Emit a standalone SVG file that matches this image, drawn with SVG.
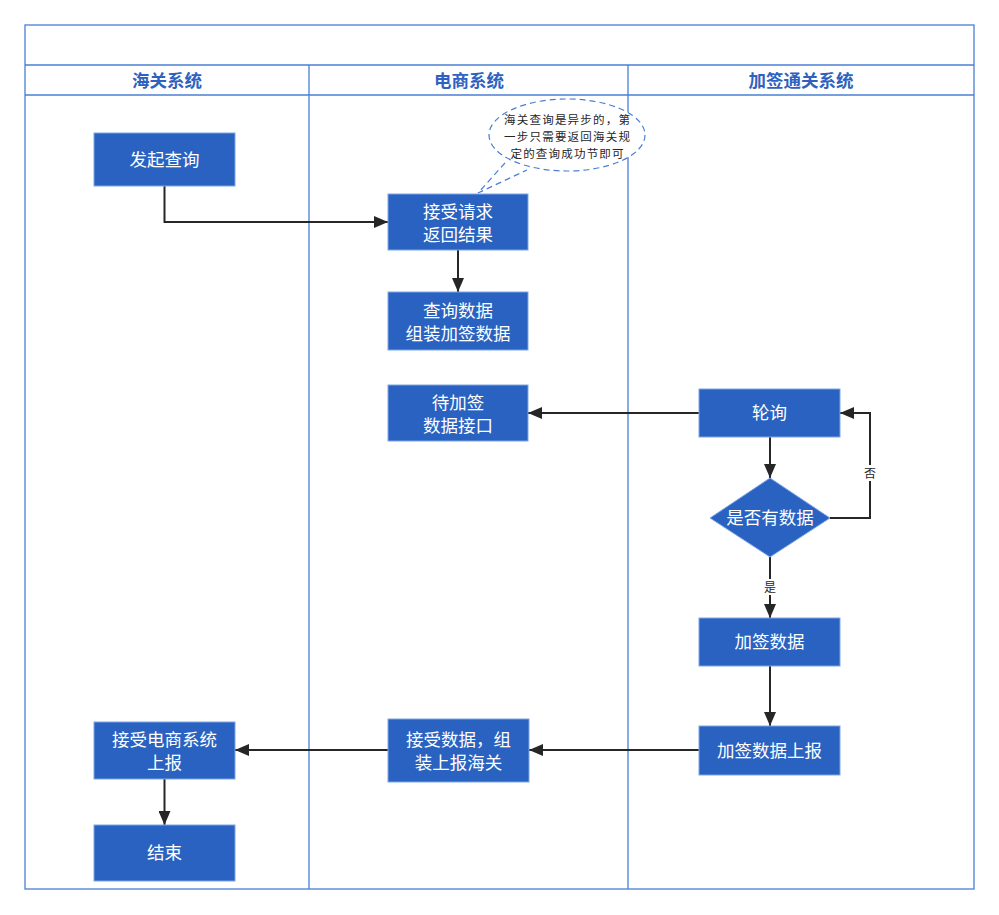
<svg xmlns="http://www.w3.org/2000/svg" width="999" height="915" viewBox="0 0 999 915">
<defs>
<style>
.lane{fill:none;stroke:#4a7fd6;stroke-width:1.3}
.hdr{font-family:"Noto Sans CJK SC","Noto Sans",sans-serif;font-size:17.5px;font-weight:bold;fill:#2f62c0;text-anchor:middle}
.node{fill:#2962c0;stroke:#7ea6e6;stroke-width:1}
.nt{font-family:"Noto Sans CJK SC","Noto Sans",sans-serif;font-size:17.5px;fill:#ffffff;text-anchor:middle}
.edge{fill:none;stroke:#262626;stroke-width:2}
.el{font-family:"Noto Sans CJK SC","Noto Sans",sans-serif;font-size:12px;fill:#262626;text-anchor:middle}
.note{font-family:"Noto Sans CJK SC","Noto Sans",sans-serif;font-size:11.5px;letter-spacing:1.2px;fill:#262626;text-anchor:middle}
</style>
<marker id="ah" viewBox="0 0 14 12" refX="14" refY="6" markerWidth="14" markerHeight="12" markerUnits="userSpaceOnUse" orient="auto">
<path d="M0,0 L14,6 L0,12 z" fill="#262626"/>
</marker>
</defs>
<rect width="999" height="915" fill="#ffffff"/>
<g id="pool">
<rect class="lane" x="25" y="25" width="949" height="864"/>
<line class="lane" x1="25" y1="65" x2="974" y2="65"/>
<line class="lane" x1="25" y1="95" x2="974" y2="95"/>
<line class="lane" x1="309" y1="65" x2="309" y2="889"/>
<line class="lane" x1="628" y1="65" x2="628" y2="889"/>
<text class="hdr" x="167" y="87">海关系统</text>
<text class="hdr" x="469" y="87">电商系统</text>
<text class="hdr" x="801" y="87">加签通关系统</text>
</g>
<g id="connectors">
<polyline class="edge" points="164.5,186 164.5,222 388,222" marker-end="url(#ah)"/>
<line class="edge" x1="458" y1="250" x2="458" y2="292" marker-end="url(#ah)"/>
<line class="edge" x1="699" y1="413" x2="528" y2="413" marker-end="url(#ah)"/>
<line class="edge" x1="770" y1="437" x2="770" y2="478" marker-end="url(#ah)"/>
<polyline class="edge" points="830,518 870,518 870,413 840,413" marker-end="url(#ah)"/>
<rect x="862" y="465" width="16" height="16" fill="#ffffff"/>
<text class="el" x="870" y="478">否</text>
<line class="edge" x1="770" y1="557" x2="770" y2="618" marker-end="url(#ah)"/>
<rect x="762" y="579" width="16" height="16" fill="#ffffff"/>
<text class="el" x="770" y="592">是</text>
<line class="edge" x1="770" y1="666" x2="770" y2="726" marker-end="url(#ah)"/>
<line class="edge" x1="699" y1="750" x2="529" y2="750" marker-end="url(#ah)"/>
<line class="edge" x1="388" y1="750" x2="235" y2="750" marker-end="url(#ah)"/>
<line class="edge" x1="164.5" y1="779" x2="164.5" y2="825" marker-end="url(#ah)"/>
</g>
<g id="note">
<path d="M505,163 L478,193 L527,170" fill="#ffffff" stroke="#4a7fd6" stroke-width="1.2" stroke-dasharray="6,4"/>
<ellipse cx="567" cy="135" rx="78" ry="36" fill="#ffffff" stroke="#4a7fd6" stroke-width="1.2" stroke-dasharray="6,4"/>
<text class="note" x="567.6" y="124">海关查询是异步的，第</text>
<text class="note" x="567.6" y="141">一步只需要返回海关规</text>
<text class="note" x="567.6" y="158">定的查询成功节即可</text>
</g>
<g id="n1"><rect class="node" x="94" y="133" width="141" height="53"/><text class="nt" x="164.5" y="166">发起查询</text></g>
<g id="n2"><rect class="node" x="388" y="194" width="140" height="56"/><text class="nt" x="458" y="218">接受请求</text><text class="nt" x="458" y="241">返回结果</text></g>
<g id="n3"><rect class="node" x="388" y="292" width="140" height="58"/><text class="nt" x="458" y="317">查询数据</text><text class="nt" x="458" y="340">组装加签数据</text></g>
<g id="n4"><rect class="node" x="388" y="385" width="140" height="56"/><text class="nt" x="458" y="409">待加签</text><text class="nt" x="458" y="432">数据接口</text></g>
<g id="n5"><rect class="node" x="699" y="389" width="141" height="48"/><text class="nt" x="769.5" y="419">轮询</text></g>
<g id="n6"><polygon class="node" points="770,478 830,518 770,557 710,518" stroke="none"/><text class="nt" x="770" y="524">是否有数据</text></g>
<g id="n7"><rect class="node" x="699" y="618" width="141" height="48"/><text class="nt" x="769.5" y="648">加签数据</text></g>
<g id="n8"><rect class="node" x="699" y="726" width="141" height="49"/><text class="nt" x="769.5" y="757">加签数据上报</text></g>
<g id="n9"><rect class="node" x="388" y="719" width="141" height="63"/><text class="nt" x="458.5" y="746">接受数据，组</text><text class="nt" x="458.5" y="769">装上报海关</text></g>
<g id="n10"><rect class="node" x="94" y="722" width="141" height="57"/><text class="nt" x="164.5" y="746">接受电商系统</text><text class="nt" x="164.5" y="769">上报</text></g>
<g id="n11"><rect class="node" x="94" y="825" width="141" height="56"/><text class="nt" x="164.5" y="859">结束</text></g>
</svg>
